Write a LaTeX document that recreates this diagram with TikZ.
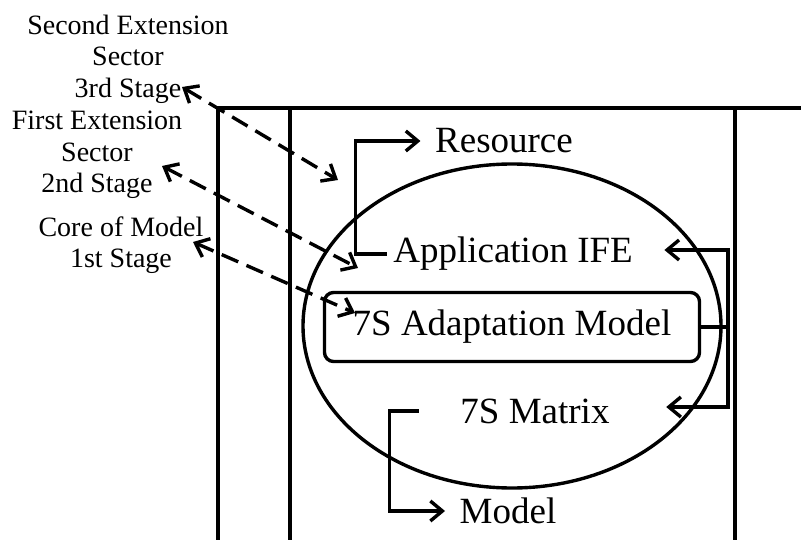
\documentclass[tikz,border=0pt]{standalone}
\usepackage{fontspec}
\setmainfont{Liberation Serif}
\usepackage{tikz}
\usetikzlibrary{shapes.geometric, arrows.meta, positioning}

\begin{document}
\begin{tikzpicture}[x=1pt, y=-1pt, line width=3.4pt,
  lbl/.style={font=\fontsize{28}{31.5}\selectfont, align=center, inner sep=0pt},
  txt/.style={font=\fontsize{37}{42}\selectfont, inner sep=2pt},
  arr/.style={-{Straight Barb[length=12pt, width=20pt]}},
  darr/.style={{Straight Barb[length=12pt, width=20pt]}-{Straight Barb[length=12pt, width=20pt]}, dash pattern=on 18pt off 9pt}]
\useasboundingbox (0,0) rectangle (801,540);
\draw (801,108) -- (218,108) -- (218,540);
\draw (290,108) -- (290,540);
\draw (735,108) -- (735,540);
\node[draw, ellipse, minimum width=418pt, minimum height=324pt, inner sep=0pt] (core) at (512,326) {};
\node[draw, rounded corners=9pt, minimum width=375pt, minimum height=69pt, txt] (adapt) at (512,327) {7S Adaptation Model};
\node[txt] (app) at (513,254) {Application IFE};
\node[txt] (res) at (504,141) {Resource};
\node[txt] (matrix) at (535,411) {7S Matrix};
\node[txt] (model) at (508,511) {Model};
\node[lbl] (lblthree) at (128,59) {Second Extension\\Sector\\3rd Stage};
\node[lbl] (lbltwo) at (97,155) {First Extension\\Sector\\2nd Stage};
\node[lbl] (lblone) at (121,245) {Core of Model\\1st Stage};
\draw[arr] ([xshift=-3pt]app.west) -- ++(-31,0) |- ([xshift=-11pt]res.west);
\draw[arr] ([xshift=-38pt]matrix.west) -- ++(-29,0) |- ([xshift=-11pt]model.west);
\coordinate (split) at (728,327);
\draw (adapt.east) -- (split);
\draw[arr] (split) |- ([shift={(28,-4)}]app.east);
\draw[arr] (split) |- ([shift={(53,-4)}]matrix.east);
\coordinate (s3) at (182,87);
\coordinate (t3) at (338,180);
\coordinate (s2) at (162,166);
\coordinate (t2) at (358,268);
\coordinate (s1) at (193,242);
\coordinate (t1) at (355,313);
\draw[darr] (s3) -- (t3);
\draw[darr] (s2) -- (t2);
\draw[darr] (s1) -- (t1);
\end{tikzpicture}
\end{document}
